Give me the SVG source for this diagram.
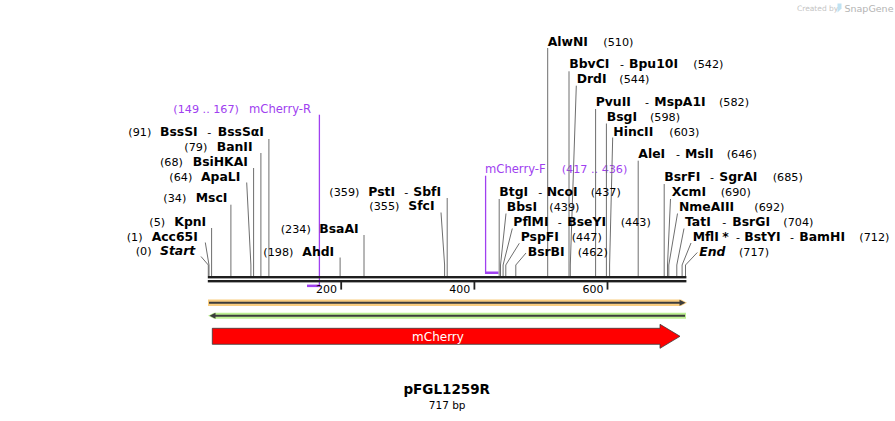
<svg xmlns="http://www.w3.org/2000/svg" width="895" height="421" viewBox="0 0 895 421">
<defs>
<style>
text{font-family:"DejaVu Sans","Verdana",sans-serif;fill:#000}
.n{font-size:11.2px;font-weight:normal}
.b{font-size:12.4px;font-weight:bold}
.bi{font-size:12.4px;font-weight:bold;font-style:italic}
.p{font-size:11.6px;fill:#a040f0}
.pn{font-size:11.2px;fill:#a040f0}
.cn polyline{fill:none;stroke:#6e6e6e;stroke-width:1}
.pr{fill:none;stroke:#a040f0;stroke-width:1.3}
.pb{fill:#a040f0}
.tick{stroke:#222;stroke-width:1.8}
.tl{font-size:11px}
</style>
</defs>
<rect width="895" height="421" fill="#fff"/>

<!-- watermark -->
<g id="watermark">
<text x="797" y="11" style="font-size:7.5px;fill:#c4c4c4">Created by</text>
<path d="M837.5 3.5 h4 v5 l-4 4 z" fill="#bfe2f2"/>
<text x="844.5" y="11.5" style="font-size:9.5px;fill:#b4b4b4">SnapGene</text>
</g>

<!-- primers -->
<g id="primer-mCherry-R">
<line class="pr" x1="319.4" y1="114.7" x2="319.4" y2="287"/>
<rect class="pb" x="307" y="284.6" width="12.9" height="2.5"/>
<text y="113"><tspan class="pn" x="173.3">(149 .. 167)</tspan><tspan class="p" x="249">mCherry-R</tspan></text>
</g>
<g id="primer-mCherry-F">
<line class="pr" x1="485.6" y1="175.7" x2="485.6" y2="274"/>
<rect class="pb" x="485" y="271.5" width="13.5" height="2.5"/>
<text y="173.3"><tspan class="p" x="485">mCherry-F</tspan><tspan class="pn" x="561.7">(417 .. 436)</tspan></text>
</g>

<!-- connectors -->
<g id="connectors" class="cn">
<polyline points="268.9,139 268.9,276"/>
<polyline points="260.9,153 260.9,276"/>
<polyline points="253.6,168 253.6,276"/>
<polyline points="246.7,182.5 250.9,265 250.9,276"/>
<polyline points="230.9,204.7 230.9,276"/>
<polyline points="211.6,228 211.6,276"/>
<polyline points="205.3,242.5 209,265 209,276"/>
<polyline points="201,256.5 208.3,265 208.3,276"/>
<polyline points="340.1,257.5 340.1,276"/>
<polyline points="364,235 364,276"/>
<polyline points="447.2,198 447.2,276"/>
<polyline points="441,212.5 444.6,265 444.6,276"/>
<polyline points="547.7,48 547.7,276"/>
<polyline points="569,71.3 569,276"/>
<polyline points="576.3,85.7 570.3,265 570.3,276"/>
<polyline points="595.6,109 595.6,276"/>
<polyline points="606.4,123.5 606.4,276"/>
<polyline points="612.7,137.5 609.6,265 609.6,276"/>
<polyline points="638.2,160.7 638.2,276"/>
<polyline points="664.2,184 664.2,276"/>
<polyline points="670.5,199 667.5,265 667.5,276"/>
<polyline points="677.5,213.5 668.8,265 668.8,276"/>
<polyline points="684,228.5 676.8,265 676.8,276"/>
<polyline points="691,243 682.1,265 682.1,276"/>
<polyline points="697.3,252.5 685.5,265 685.5,276"/>
<polyline points="499.2,199 499.2,276"/>
<polyline points="506,213.5 500.5,265 500.5,276"/>
<polyline points="512.3,228.5 503.1,265 503.1,276"/>
<polyline points="519.3,243.3 505.8,265 505.8,276"/>
<polyline points="526,253 515.8,265 515.8,276"/>
</g>

<!-- backbone -->
<g id="backbone">
<rect x="207.8" y="276" width="478.6" height="2.4" fill="#1e1e1e"/>
<rect x="207.8" y="280" width="478.6" height="2.4" fill="#1e1e1e"/>
<line class="tick" x1="341.2" y1="282" x2="341.2" y2="289.6"/>
<line class="tick" x1="474.4" y1="282" x2="474.4" y2="289.6"/>
<line class="tick" x1="607.5" y1="282" x2="607.5" y2="289.6"/>
<text class="tl" x="337" y="292.7" text-anchor="end">200</text>
<text class="tl" x="470.2" y="292.7" text-anchor="end">400</text>
<text class="tl" x="603.4" y="292.7" text-anchor="end">600</text>
</g>

<!-- enzyme labels left -->
<g id="BssSI"><text y="135.7"><tspan class="n" x="128.3">(91)</tspan><tspan class="b" x="160">BssSI</tspan><tspan class="n" x="207.3">-</tspan><tspan class="b" x="217.7">BssSαI</tspan></text></g>
<g id="BanII"><text y="150.7"><tspan class="n" x="184.3">(79)</tspan><tspan class="b" x="216.7">BanII</tspan></text></g>
<g id="BsiHKAI"><text y="165.7"><tspan class="n" x="160">(68)</tspan><tspan class="b" x="192.7">BsiHKAI</tspan></text></g>
<g id="ApaLI"><text y="180.7"><tspan class="n" x="169.3">(64)</tspan><tspan class="b" x="201">ApaLI</tspan></text></g>
<g id="MscI"><text y="202.3"><tspan class="n" x="163.3">(34)</tspan><tspan class="b" x="195.7">MscI</tspan></text></g>
<g id="KpnI"><text y="225.7"><tspan class="n" x="149.3">(5)</tspan><tspan class="b" x="174.3">KpnI</tspan></text></g>
<g id="Acc65I"><text y="240.7"><tspan class="n" x="126.7">(1)</tspan><tspan class="b" x="151.7">Acc65I</tspan></text></g>
<g id="Start"><text y="255.3"><tspan class="n" x="135.7">(0)</tspan><tspan class="bi" x="160">Start</tspan></text></g>
<g id="AhdI"><text y="255.7"><tspan class="n" x="263.3">(198)</tspan><tspan class="b" x="302.3">AhdI</tspan></text></g>
<g id="BsaAI"><text y="233"><tspan class="n" x="280.7">(234)</tspan><tspan class="b" x="319.3">BsaAI</tspan></text></g>
<g id="PstI"><text y="195.7"><tspan class="n" x="329.3">(359)</tspan><tspan class="b" x="368.3">PstI</tspan><tspan class="n" x="404.3">-</tspan><tspan class="b" x="413.3">SbfI</tspan></text></g>
<g id="SfcI"><text y="210.3"><tspan class="n" x="369.3">(355)</tspan><tspan class="b" x="408.3">SfcI</tspan></text></g>

<!-- enzyme labels right -->
<g id="AlwNI"><text y="45.7"><tspan class="b" x="547.7">AlwNI</tspan><tspan class="n" x="603.3">(510)</tspan></text></g>
<g id="BbvCI"><text y="68"><tspan class="b" x="569.3">BbvCI</tspan><tspan class="n" x="620">-</tspan><tspan class="b" x="629">Bpu10I</tspan><tspan class="n" x="693.3">(542)</tspan></text></g>
<g id="DrdI"><text y="83"><tspan class="b" x="576.7">DrdI</tspan><tspan class="n" x="619.3">(544)</tspan></text></g>
<g id="PvuII"><text y="106.3"><tspan class="b" x="595.7">PvuII</tspan><tspan class="n" x="645">-</tspan><tspan class="b" x="654.3">MspA1I</tspan><tspan class="n" x="719">(582)</tspan></text></g>
<g id="BsgI"><text y="121.3"><tspan class="b" x="606.7">BsgI</tspan><tspan class="n" x="650">(598)</tspan></text></g>
<g id="HincII"><text y="136.3"><tspan class="b" x="613.3">HincII</tspan><tspan class="n" x="669.3">(603)</tspan></text></g>
<g id="AleI"><text y="158"><tspan class="b" x="638.3">AleI</tspan><tspan class="n" x="676">-</tspan><tspan class="b" x="685">MslI</tspan><tspan class="n" x="726.7">(646)</tspan></text></g>
<g id="BsrFI"><text y="181.3"><tspan class="b" x="664.3">BsrFI</tspan><tspan class="n" x="710">-</tspan><tspan class="b" x="719.3">SgrAI</tspan><tspan class="n" x="772.7">(685)</tspan></text></g>
<g id="XcmI"><text y="196.3"><tspan class="b" x="671.7">XcmI</tspan><tspan class="n" x="720.7">(690)</tspan></text></g>
<g id="NmeAIII"><text y="211.3"><tspan class="b" x="679">NmeAIII</tspan><tspan class="n" x="754.3">(692)</tspan></text></g>
<g id="TatI"><text y="226.3"><tspan class="b" x="685">TatI</tspan><tspan class="n" x="722.3">-</tspan><tspan class="b" x="732.3">BsrGI</tspan><tspan class="n" x="783.3">(704)</tspan></text></g>
<g id="MflI"><text y="240.7"><tspan class="b" x="692.7">MflI</tspan><tspan class="b" x="722.3">*</tspan><tspan class="n" x="736">-</tspan><tspan class="b" x="744.3">BstYI</tspan><tspan class="n" x="790">-</tspan><tspan class="b" x="799.3">BamHI</tspan><tspan class="n" x="859.3">(712)</tspan></text></g>
<g id="End"><text y="255.7"><tspan class="bi" x="699.3">End</tspan><tspan class="n" x="739">(717)</tspan></text></g>
<g id="BtgI"><text y="196.3"><tspan class="b" x="499.3">BtgI</tspan><tspan class="n" x="538.3">-</tspan><tspan class="b" x="546.7">NcoI</tspan><tspan class="n" x="590.7">(437)</tspan></text></g>
<g id="BbsI"><text y="211.3"><tspan class="b" x="506.7">BbsI</tspan><tspan class="n" x="549.3">(439)</tspan></text></g>
<g id="PflMI"><text y="226.3"><tspan class="b" x="513.3">PflMI</tspan><tspan class="n" x="557.7">-</tspan><tspan class="b" x="567.3">BseYI</tspan><tspan class="n" x="620.7">(443)</tspan></text></g>
<g id="PspFI"><text y="240.7"><tspan class="b" x="520.7">PspFI</tspan><tspan class="n" x="571.7">(447)</tspan></text></g>
<g id="BsrBI"><text y="255.7"><tspan class="b" x="527.7">BsrBI</tspan><tspan class="n" x="577.7">(462)</tspan></text></g>

<!-- features -->
<g id="feature-orange">
<path d="M208,299.6 H681 L687,302.8 L681,306 H208 Z" fill="#f9cd80"/>
<line x1="209" y1="302.8" x2="681" y2="302.8" stroke="#3c3c3c" stroke-width="2"/>
<path d="M679.5,299.8 L685.5,302.8 L679.5,305.8 Z" fill="#3c3c3c"/>
</g>
<g id="feature-green">
<path d="M686,312.8 H214 L208,315.8 L214,318.8 H686 Z" fill="#bcef92"/>
<line x1="685" y1="315.8" x2="214" y2="315.8" stroke="#3c3c3c" stroke-width="2"/>
<path d="M215.5,312.8 L209.5,315.8 L215.5,318.8 Z" fill="#3c3c3c"/>
</g>
<g id="mCherry">
<path d="M212.3,328.3 H660 V324.3 L680,336.3 L660,348.3 V344.3 H212.3 Z" fill="#ff0000" stroke="#3a3a3a" stroke-width="0.8"/>
<text x="438" y="340.5" text-anchor="middle" style="font-size:12px;fill:#fff">mCherry</text>
</g>

<!-- title -->
<g id="title">
<text x="446.7" y="394.3" text-anchor="middle" style="font-size:13.5px;font-weight:bold">pFGL1259R</text>
<text x="447.2" y="409.3" text-anchor="middle" style="font-size:10.5px">717 bp</text>
</g>
</svg>
